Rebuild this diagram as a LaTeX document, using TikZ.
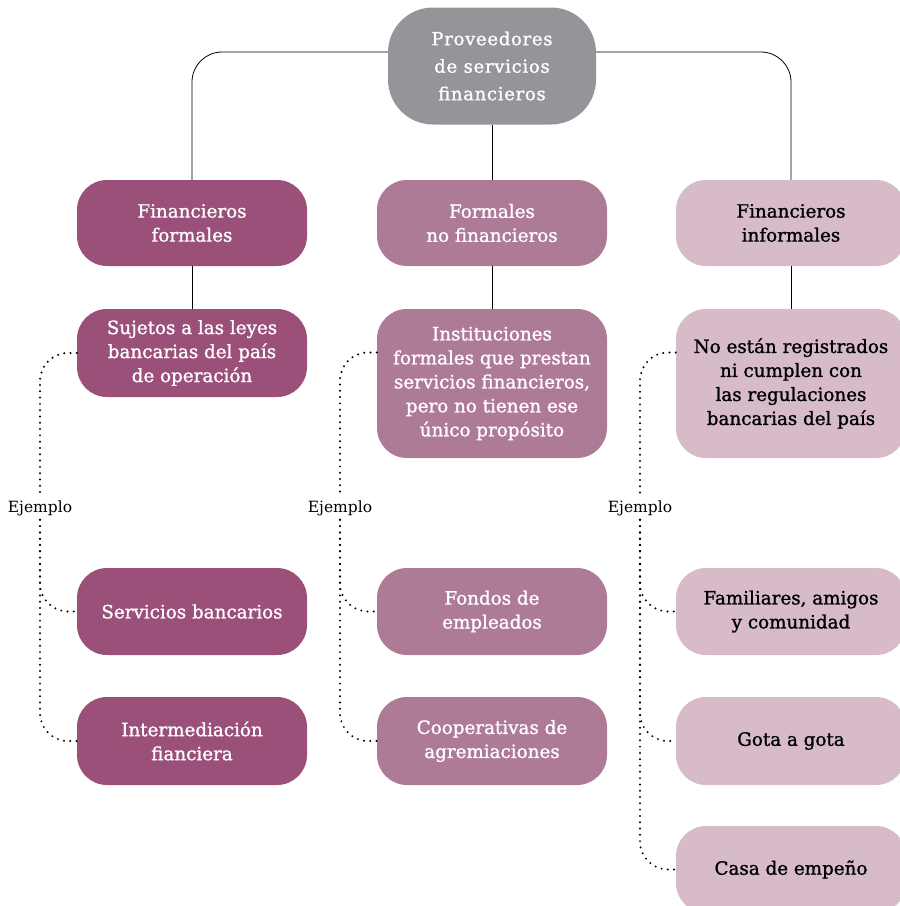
\documentclass[tikz,border=0pt]{standalone}
\usepackage{fontspec}
\setmainfont[AutoFakeBold=1.2]{DejaVu Serif}
\definecolor{grisc}{HTML}{939598}
\definecolor{moraA}{HTML}{9A5078}
\definecolor{moraB}{HTML}{AE7B96}
\definecolor{moraC}{HTML}{D7BBC9}
\begin{document}
\begin{tikzpicture}[x=1pt,y=-1pt,
  caja/.style={rounded corners=30pt, minimum width=230pt, align=center,
    inner sep=0pt, font=\fontsize{18.3}{24}\selectfont\bfseries},
  cajaA/.style={caja, fill=moraA, text=white},
  cajaB/.style={caja, fill=moraB, text=white},
  cajaC/.style={caja, fill=moraC, text=black},
  enlace/.style={draw=black, line width=0.8pt},
  puntos/.style={draw=black, line width=2.2pt, line cap=round,
    dash pattern=on 0pt off 6.3pt, rounded corners=28pt},
  ejemplo/.style={font=\fontsize{15.5}{17}\selectfont, inner sep=4pt}]
\useasboundingbox (0,0) rectangle (900,906);
\begin{scope}
\clip (0,0) rectangle (900,906);

% root node
\node[caja, fill=grisc, text=white, minimum width=208pt, minimum height=117pt,
  rounded corners=45pt,
  font=\fontsize{18}{27.5}\selectfont\bfseries\addfontfeatures{LetterSpace=4}] (raiz) at (492,66)
  {Proveedores\\de servicios\\financieros};

% first level
\node[cajaA, minimum height=86pt] (finf) at (192,223) {Financieros\\formales};
\node[cajaB, minimum height=86pt] (fnof) at (492,223) {Formales\\no financieros};
\node[cajaC, minimum height=86pt] (finf2) at (791,223) {Financieros\\informales};

% second level
\node[cajaA, minimum height=88pt] (suj) at (192,353)
  {Sujetos a las leyes\\bancarias del país\\de operación};
\node[cajaB, minimum height=149pt] (inst) at (492,383.5)
  {Instituciones\\formales que prestan\\servicios financieros,\\pero no tienen ese\\único propósito};
\node[cajaC, minimum height=149pt] (noreg) at (791,383.5)
  {No están registrados\\ni cumplen con\\las regulaciones\\bancarias del país};

% examples
\node[cajaA, minimum height=87pt] (serv) at (192,611.5) {Servicios bancarios};
\node[cajaA, minimum height=88pt] (inter) at (192,741) {Intermediación\\fianciera};
\node[cajaB, minimum height=87pt] (fond) at (492,611.5) {Fondos de\\empleados};
\node[cajaB, minimum height=88pt] (coop) at (492,741) {Cooperativas de\\agremiaciones};
\node[cajaC, minimum height=87pt] (fam) at (791,611.5) {Familiares, amigos\\y comunidad};
\node[cajaC, minimum height=88pt] (gota) at (791,741) {Gota a gota};
\node[cajaC, minimum height=87pt] (casa) at (791,869.5) {Casa de empeño};

\node[ejemplo] (ej1) at (40,508) {Ejemplo};
\node[ejemplo] (ej2) at (340,508) {Ejemplo};
\node[ejemplo] (ej3) at (640,508) {Ejemplo};

% solid tree lines
\draw[enlace, rounded corners=30pt] ([yshift=14pt]raiz.west) -| (finf.north);
\draw[enlace, rounded corners=30pt] ([yshift=14pt]raiz.east) -| (finf2.north);
\draw[enlace] (raiz.south) -- (fnof.north);
\draw[enlace] (finf.south) -- (suj.north);
\draw[enlace] (fnof.south) -- (inst.north);
\draw[enlace] (finf2.south) -- (noreg.north);

% dotted example links
\draw[puntos] (suj.west) -| (ej1.north);
\draw[puntos] (ej1.south) |- (serv.west);
\draw[puntos] (ej1.south) |- (inter.west);

\draw[puntos] ([yshift=31pt]inst.west) -| (ej2.north);
\draw[puntos] (ej2.south) |- (fond.west);
\draw[puntos] (ej2.south) |- (coop.west);

\draw[puntos] ([yshift=31pt]noreg.west) -| (ej3.north);
\draw[puntos] (ej3.south) |- (fam.west);
\draw[puntos] (ej3.south) |- (gota.west);
\draw[puntos] (ej3.south) |- (casa.west);
\end{scope}
\end{tikzpicture}
\end{document}
